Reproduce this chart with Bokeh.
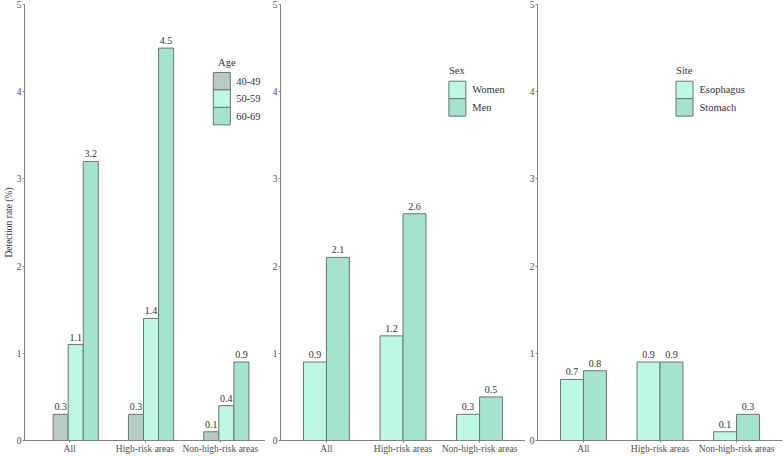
from bokeh.plotting import figure
from bokeh.models import Range1d, FixedTicker
from bokeh.layouts import row
from bokeh.embed import file_html
from bokeh.resources import INLINE
from bokeh.core.properties import value

# ---- data ----
areas = ["All", "High-risk areas", "Non-high-risk areas"]

age_groups = ["40-49", "50-59", "60-69"]
age_40_49 = [0.3, 0.3, 0.1]
age_50_59 = [1.1, 1.4, 0.4]
age_60_69 = [3.2, 4.5, 0.9]

sex_groups = ["Women", "Men"]
women = [0.9, 1.2, 0.3]
men = [2.1, 2.6, 0.5]

site_groups = ["Esophagus", "Stomach"]
esophagus = [0.7, 0.9, 0.1]
stomach = [0.8, 0.9, 0.3]

y_ticks = [0, 1, 2, 3, 4, 5]
y_title = "Detection rate (%)"

# ---- style ----
FONT = "Liberation Serif"
C_GRAY = "#b6cac6"
C_LIGHT = "#bdf8e6"
C_MID = "#a3e3d0"
OUTLINE = "#6e7472"
AXIS_C = "#808080"
TEXT_C = "#333333"
TICK_C = "#4d4d4d"
SWATCH_PX = 17
LEG_STEP = 0.2   # vertical step between legend rows (y units)


def make_panel(names, series, colors, offsets, bar_w, title, leg,
               width, first=False, border_left=12, border_right=0):
    p = figure(output_backend="svg", toolbar_location=None,
               width=width, height=456,
               min_border_left=border_left, min_border_right=border_right,
               min_border_top=4, min_border_bottom=13,
               x_range=Range1d(0.4, 3.6), y_range=Range1d(0, 5))
    p.outline_line_color = None
    p.xgrid.visible = False
    p.ygrid.visible = False
    p.background_fill_color = "white"
    p.border_fill_color = "white"

    xs_base = [i + 1 for i in range(len(areas))]
    for vals, col, off in zip(series, colors, offsets):
        xs = [b + off for b in xs_base]
        p.vbar(x=xs, top=vals, width=bar_w, bottom=0,
               fill_color=col, line_color=OUTLINE, line_width=1)
        p.text(x=xs, y=vals, text=["%.1f" % v for v in vals],
               text_align="center", text_baseline="bottom", y_offset=-4,
               text_font=value(FONT), text_font_size="10px",
               text_color=TEXT_C)

    # legend (swatches stacked, touching)
    bx, lx, tx, ytop, ytitle = leg
    ys = [ytop - k * LEG_STEP for k in range(len(names))]
    p.rect(x=[bx] * len(names), y=ys, width=SWATCH_PX, height=SWATCH_PX + 0.5,
           width_units="screen", height_units="screen",
           fill_color=colors, line_color=OUTLINE, line_width=1)
    p.text(x=[lx] * len(names), y=ys, text=names, text_align="left",
           text_baseline="middle", text_font=value(FONT),
           text_font_size="10.5px", text_color=TEXT_C)
    p.text(x=[tx], y=[ytitle], text=[title], text_align="left",
           text_baseline="middle", text_font=value(FONT),
           text_font_size="10.5px", text_color=TEXT_C)

    p.xaxis.ticker = FixedTicker(ticks=xs_base)
    p.xaxis.major_label_overrides = {t: a for t, a in zip(xs_base, areas)}
    p.yaxis.ticker = FixedTicker(ticks=y_ticks)
    for ax in (p.xaxis[0], p.yaxis[0]):
        ax.axis_line_color = AXIS_C
        ax.axis_line_width = 1
        ax.major_tick_line_color = AXIS_C
        ax.major_tick_out = 2
        ax.major_tick_in = 0
        ax.minor_tick_line_color = None
        ax.major_label_text_font = FONT
        ax.major_label_text_color = TICK_C
        ax.major_label_standoff = 1
    p.xaxis.major_label_text_font_size = "9.5px"
    p.yaxis.major_label_text_font_size = "9.5px"
    if first:
        p.yaxis.axis_label = y_title
        p.yaxis.axis_label_text_font = FONT
        p.yaxis.axis_label_text_font_style = "normal"
        p.yaxis.axis_label_text_font_size = "9.5px"
        p.yaxis.axis_label_text_color = TEXT_C
        p.yaxis.axis_label_standoff = 0
    return p


p1 = make_panel(age_groups, [age_40_49, age_50_59, age_60_69],
                [C_GRAY, C_LIGHT, C_MID], [-0.12, 0.08, 0.28], 0.2,
                "Age", (3.02, 3.21, 2.97, 4.12, 4.34), 265,
                first=True, border_left=20)
p2 = make_panel(sex_groups, [women, men], [C_LIGHT, C_MID],
                [-0.15, 0.15], 0.3, "Sex", (2.71, 2.905, 2.6, 4.02, 4.24),
                260, border_left=15)
p3 = make_panel(site_groups, [esophagus, stomach], [C_LIGHT, C_MID],
                [-0.15, 0.15], 0.3, "Site", (2.32, 2.515, 2.21, 4.02, 4.24),
                259, border_left=12, border_right=2)

layout = row(p1, p2, p3, spacing=0)
open("out.html", "w").write(file_html(layout, INLINE))
